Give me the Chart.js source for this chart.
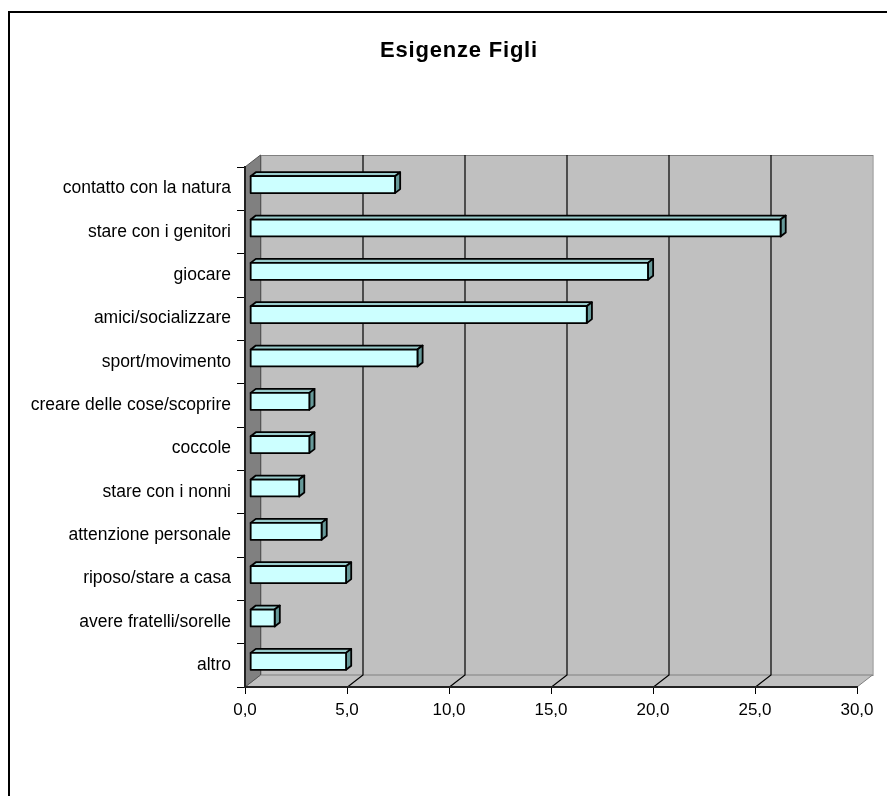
<!DOCTYPE html>
<html>
<head>
<meta charset="utf-8">
<script src="https://cdn.jsdelivr.net/npm/chart.js@4"></script>
<style>
  html, body { margin: 0; padding: 0; background: #fff; }
</style>
</head>
<body>
<canvas id="esigenze" width="887" height="796"></canvas>
<script>
const categories = [
    'contatto con la natura',
    'stare con i genitori',
    'giocare',
    'amici/socializzare',
    'sport/movimento',
    'creare delle cose/scoprire',
    'coccole',
    'stare con i nonni',
    'attenzione personale',
    'riposo/stare a casa',
    'avere fratelli/sorelle',
    'altro'
];
const percentuali = [7.1, 26.0, 19.5, 16.5, 8.2, 2.9, 2.9, 2.4, 3.5, 4.7, 1.2, 4.7];
const xTickLabels = ['0,0', '5,0', '10,0', '15,0', '20,0', '25,0', '30,0'];
const titolo = 'Esigenze Figli';

// 3D depth of the walls (px)
const DX = 15.5, DY = -12;
const font = 'Liberation Sans, Arial, sans-serif';

const wallsPlugin = {
    id: 'walls',
    beforeDraw(chart) {
        const ctx = chart.ctx;
        const a = chart.chartArea;
        const xs = chart.scales.x;
        ctx.save();
        // outer frame
        ctx.strokeStyle = '#000';
        ctx.lineWidth = 2;
        ctx.strokeRect(9, 12, 1000, 1000);

        // title
        ctx.fillStyle = '#000';
        ctx.font = 'bold 22px ' + font;
        ctx.letterSpacing = '0.8px';
        ctx.textAlign = 'center';
        ctx.textBaseline = 'alphabetic';
        ctx.fillText(titolo, 459, 57);
        ctx.letterSpacing = '0px';

        ctx.lineWidth = 1;
        ctx.strokeStyle = '#808080';
        // back wall
        ctx.fillStyle = '#c0c0c0';
        ctx.fillRect(a.left + DX, a.top + DY, a.right - a.left, a.bottom - a.top);
        ctx.strokeRect(a.left + DX + 0.5, a.top + DY + 0.5, a.right - a.left, a.bottom - a.top);
        // floor
        ctx.beginPath();
        ctx.moveTo(a.left, a.bottom);
        ctx.lineTo(a.right, a.bottom);
        ctx.lineTo(a.right + DX, a.bottom + DY);
        ctx.lineTo(a.left + DX, a.bottom + DY);
        ctx.closePath();
        ctx.fill();
        ctx.stroke();
        // left wall
        ctx.fillStyle = '#808080';
        ctx.beginPath();
        ctx.moveTo(a.left, a.top);
        ctx.lineTo(a.left + DX, a.top + DY);
        ctx.lineTo(a.left + DX, a.bottom + DY);
        ctx.lineTo(a.left, a.bottom);
        ctx.closePath();
        ctx.fill();
        ctx.strokeStyle = '#555';
        ctx.stroke();

        // gridlines on back wall and floor
        ctx.strokeStyle = '#000';
        ctx.lineWidth = 1.2;
        xs.ticks.forEach((t, i) => {
            if (i === 0 || i === xs.ticks.length - 1) return;
            const px = Math.round(xs.getPixelForValue(t.value)) + 0.5;
            ctx.beginPath();
            ctx.moveTo(px, a.bottom);
            ctx.lineTo(px + DX, a.bottom + DY);
            ctx.lineTo(px + DX, a.top + DY);
            ctx.stroke();
        });
        ctx.restore();
    },
    beforeDatasetDraw() {
        return false;
    },
    afterDatasetsDraw(chart) {
        const ctx = chart.ctx;
        const d = DX / 3, e = DY / 3;
        const meta = chart.getDatasetMeta(0);
        ctx.save();
        ctx.strokeStyle = '#000';
        ctx.lineWidth = 1.8;
        ctx.lineJoin = 'round';
        meta.data.forEach(bar => {
            const p = bar.getProps(['x', 'y', 'base', 'height'], true);
            const x0 = p.base + d, x1 = p.x + d;
            const y0 = p.y - p.height / 2 + e, y1 = p.y + p.height / 2 + e;
            // top face
            ctx.fillStyle = '#99cccc';
            ctx.beginPath();
            ctx.moveTo(x0, y0);
            ctx.lineTo(x1, y0);
            ctx.lineTo(x1 + d, y0 + e);
            ctx.lineTo(x0 + d, y0 + e);
            ctx.closePath();
            ctx.fill();
            ctx.stroke();
            // side face
            ctx.fillStyle = '#669999';
            ctx.beginPath();
            ctx.moveTo(x1, y0);
            ctx.lineTo(x1 + d, y0 + e);
            ctx.lineTo(x1 + d, y1 + e);
            ctx.lineTo(x1, y1);
            ctx.closePath();
            ctx.fill();
            ctx.stroke();
            // front face
            ctx.fillStyle = '#ccffff';
            ctx.fillRect(x0, y0, x1 - x0, y1 - y0);
            ctx.strokeRect(x0, y0, x1 - x0, y1 - y0);
        });
        ctx.restore();
    }
};

new Chart(document.getElementById('esigenze'), {
    type: 'bar',
    data: {
        labels: categories,
        datasets: [{
            label: titolo,
            data: percentuali,
            backgroundColor: '#ccffff',
            categoryPercentage: 1,
            barPercentage: 0.39
        }]
    },
    options: {
        indexAxis: 'y',
        responsive: false,
        animation: false,
        events: [],
        layout: { padding: { left: 0, right: 30, top: 167, bottom: 0 } },
        plugins: {
            legend: { display: false },
            tooltip: { enabled: false },
            title: { display: false }
        },
        scales: {
            x: {
                min: 0,
                max: 30,
                afterFit(scale) { scale.height = 109; },
                afterBuildTicks(scale) {
                    scale.ticks = xTickLabels.map((_, i) => ({ value: i * 5 }));
                },
                ticks: {
                    color: '#000',
                    padding: 6,
                    maxRotation: 0,
                    font: { family: font, size: 17 },
                    callback: (v, i) => xTickLabels[i]
                },
                grid: { drawOnChartArea: false, tickLength: 7, tickColor: '#000' },
                border: { color: '#222', width: 2 }
            },
            y: {
                afterFit(scale) { scale.width = 245; },
                ticks: {
                    color: '#000',
                    padding: 6,
                    font: { family: font, size: 17.5 }
                },
                grid: { offset: true, drawOnChartArea: false, tickLength: 8, tickColor: '#000' },
                border: { color: '#222', width: 2 }
            }
        }
    },
    plugins: [wallsPlugin]
});
</script>
</body>
</html>
